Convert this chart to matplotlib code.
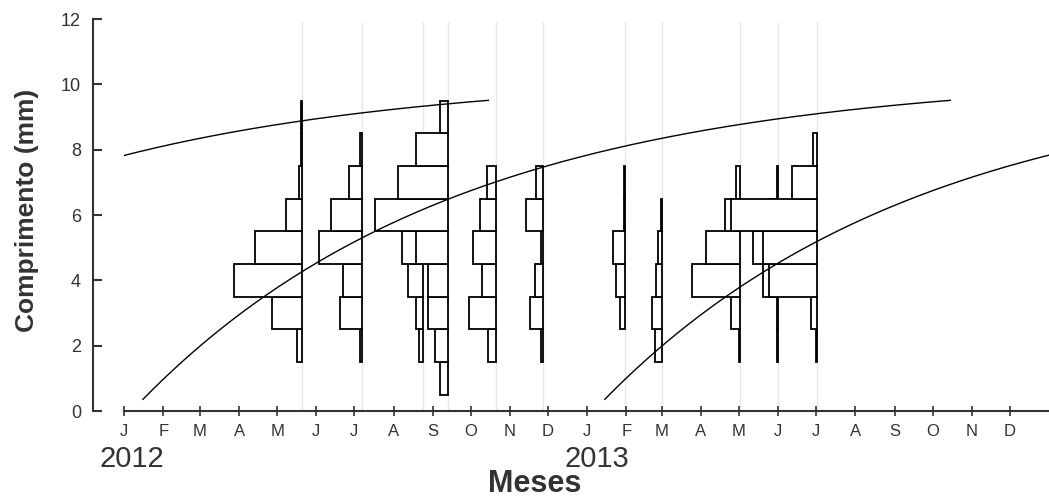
import datetime as dt
import numpy as np
import matplotlib.pyplot as plt
import matplotlib.dates as mdates

plt.rcParams['font.family'] = ['Liberation Sans', 'DejaVu Sans']

# datas de amostragem
sample_dates = ['2012-05-21', '2012-07-07', '2012-08-24', '2012-09-13',
                '2012-10-21', '2012-11-27', '2013-01-31', '2013-03-01',
                '2013-05-02', '2013-06-01', '2013-07-02']

# classes de comprimento (mm, ponto medio)
length_classes = [1, 2, 3, 4, 5, 6, 7, 8, 9]

# frequencias por classe em cada amostra
freq_s01 = [0, 5, 30, 68, 47, 16, 3, 1.5, 1.5]
freq_s02 = [0, 1.5, 22, 19, 43, 31, 13, 1.5, 0]
freq_s03 = [0, 4, 7, 15, 21, 0, 0, 0, 0]
freq_s04 = [8, 13, 20, 20, 32, 73, 50, 32, 8]
freq_s05 = [0, 8, 27, 14, 23, 16, 9, 0, 0]
freq_s06 = [0, 1.5, 13, 8, 1.5, 17, 7, 0, 0]
freq_s07 = [0, 0, 5, 9, 12, 1.5, 1.5, 0, 0]
freq_s08 = [0, 7, 10, 6, 4, 0.8, 0, 0, 0]
freq_s09 = [0, 1.5, 9, 48, 34, 15, 4, 0, 0]
freq_s10 = [0, 1, 1.5, 15, 25, 10, 1, 0, 0]
freq_s11 = [0, 1.5, 6, 48, 54, 86, 25, 4, 0]
frequencies = [freq_s01, freq_s02, freq_s03, freq_s04, freq_s05, freq_s06,
               freq_s07, freq_s08, freq_s09, freq_s10, freq_s11]

# curva de crescimento de von Bertalanffy (coortes)
cohort_starts = ['2011-01-16', '2012-01-16', '2013-01-15']
L_INF = 10.3
K = 1.45
L_START = 0.36
CURVE_DAYS = 638

month_letters = ['J', 'F', 'M', 'A', 'M', 'J', 'J', 'A', 'S', 'O', 'N', 'D']
year_labels = ['2012', '2013']

DAYS_PER_UNIT = 0.79   # largura da barra em dias por unidade de frequencia
TXT = '#333333'


def to_num(s):
    return mdates.date2num(dt.datetime.strptime(s, '%Y-%m-%d'))


fig = plt.figure(figsize=(10.49, 4.98), dpi=100)
ax = fig.add_axes([124 / 1049, 87 / 498, 925 / 1049, 392 / 498])

x_dates = [to_num(d) for d in sample_dates]

# linhas das amostras
ax.vlines(x_dates, 0, 11.9, color='#e6e6e6', lw=1, zorder=0)

# histogramas, barras para a esquerda da data da amostra
for i, (x0, freq) in enumerate(zip(x_dates, frequencies)):
    for cls, f in zip(length_classes, freq):
        if f <= 0:
            continue
        w = f * DAYS_PER_UNIT
        ax.barh(cls, w, left=x0 - w, height=1, color='white',
                edgecolor='black', lw=1.3, zorder=2 + i * 0.01)

# curvas de crescimento
for start in cohort_starts:
    t = np.linspace(0, CURVE_DAYS, 400)
    L = L_INF - (L_INF - L_START) * np.exp(-K * t / 365.25)
    ax.plot(to_num(start) + t, L, color='black', lw=1.0, zorder=5)

ax.set_xlim(to_num('2012-01-01'), to_num('2014-01-01'))
ax.set_ylim(0, 12)

month_ticks = [to_num(f'{y}-{m:02d}-01') for y in (2012, 2013) for m in range(1, 13)]
ax.set_xticks(month_ticks)
ax.set_xticklabels(month_letters * 2)
ax.set_yticks(range(0, 13, 2))

for side in ('top', 'right'):
    ax.spines[side].set_visible(False)
ax.spines['left'].set_position(('outward', 22))
ax.spines['left'].set_bounds(0, 12)
for side in ('left', 'bottom'):
    ax.spines[side].set_color(TXT)
    ax.spines[side].set_linewidth(1.5)

ax.tick_params(axis='y', direction='in', length=6.5, width=1.5, pad=9,
               labelsize=13, colors=TXT)
ax.tick_params(axis='x', direction='inout', length=7, width=1.2, pad=6,
               labelsize=12, colors=TXT)

# anos abaixo dos meses
for yr, d in zip(year_labels, ['2012-01-07', '2013-01-09']):
    ax.annotate(yr, xy=(to_num(d), 0), xycoords=('data', 'axes fraction'),
                xytext=(0, -34.5), textcoords='offset points',
                ha='center', va='center', fontsize=21, color=TXT)

fig.text(535 / 1049, 14 / 498, 'Meses', ha='center', va='center',
         fontsize=22, fontweight='bold', color=TXT)
fig.text(27 / 1049, (498 - 210) / 498, 'Comprimento (mm)', rotation=90,
         ha='center', va='center', fontsize=19, fontweight='bold', color=TXT)

fig.savefig('out.png', dpi=100)
